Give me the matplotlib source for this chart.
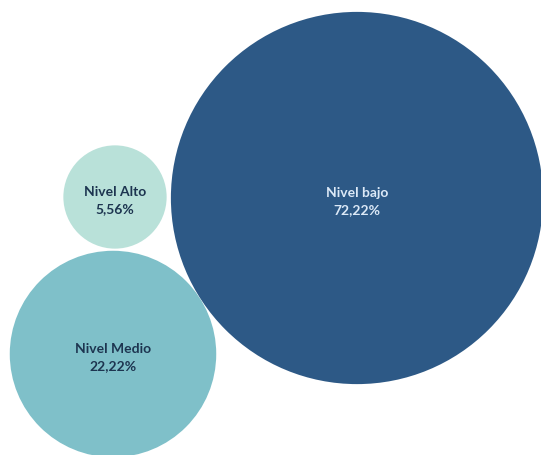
import numpy as np
import matplotlib
matplotlib.use("Agg")
import matplotlib.pyplot as plt
from matplotlib.patches import Circle

# share of each level, in percent
levels = ["Nivel bajo", "Nivel Medio", "Nivel Alto"]
shares = [72.22, 22.22, 5.56]

# bubble layout (pixel space, y grows downwards)
centers = [(357, 199), (113, 355), (115, 198)]
fills = ["#2d5986", "#7fc0c9", "#b9e1d9"]
text_colors = ["#dce9f7", "#1d3550", "#1d3550"]
scale = 21.9  # radius per sqrt(percent)

fig = plt.figure(figsize=(5.41, 4.56), dpi=100)
ax = fig.add_axes([0, 0, 1, 1])
ax.set_xlim(0, 541)
ax.set_ylim(456, 0)
ax.set_aspect("equal")
ax.axis("off")

for name, val, (cx, cy), fc, tc in zip(levels, shares, centers, fills, text_colors):
    r = scale * np.sqrt(val)
    ax.add_patch(Circle((cx, cy), r, facecolor=fc, edgecolor="none"))
    label = "%s\n%s%%" % (name, ("%.2f" % val).replace(".", ","))
    ax.text(cx, cy + 3, label, ha="center", va="center", color=tc,
            fontsize=10, fontweight="bold", family=["Lato", "DejaVu Sans"],
            linespacing=1.5)

fig.savefig("out.png", dpi=100, facecolor="white")
